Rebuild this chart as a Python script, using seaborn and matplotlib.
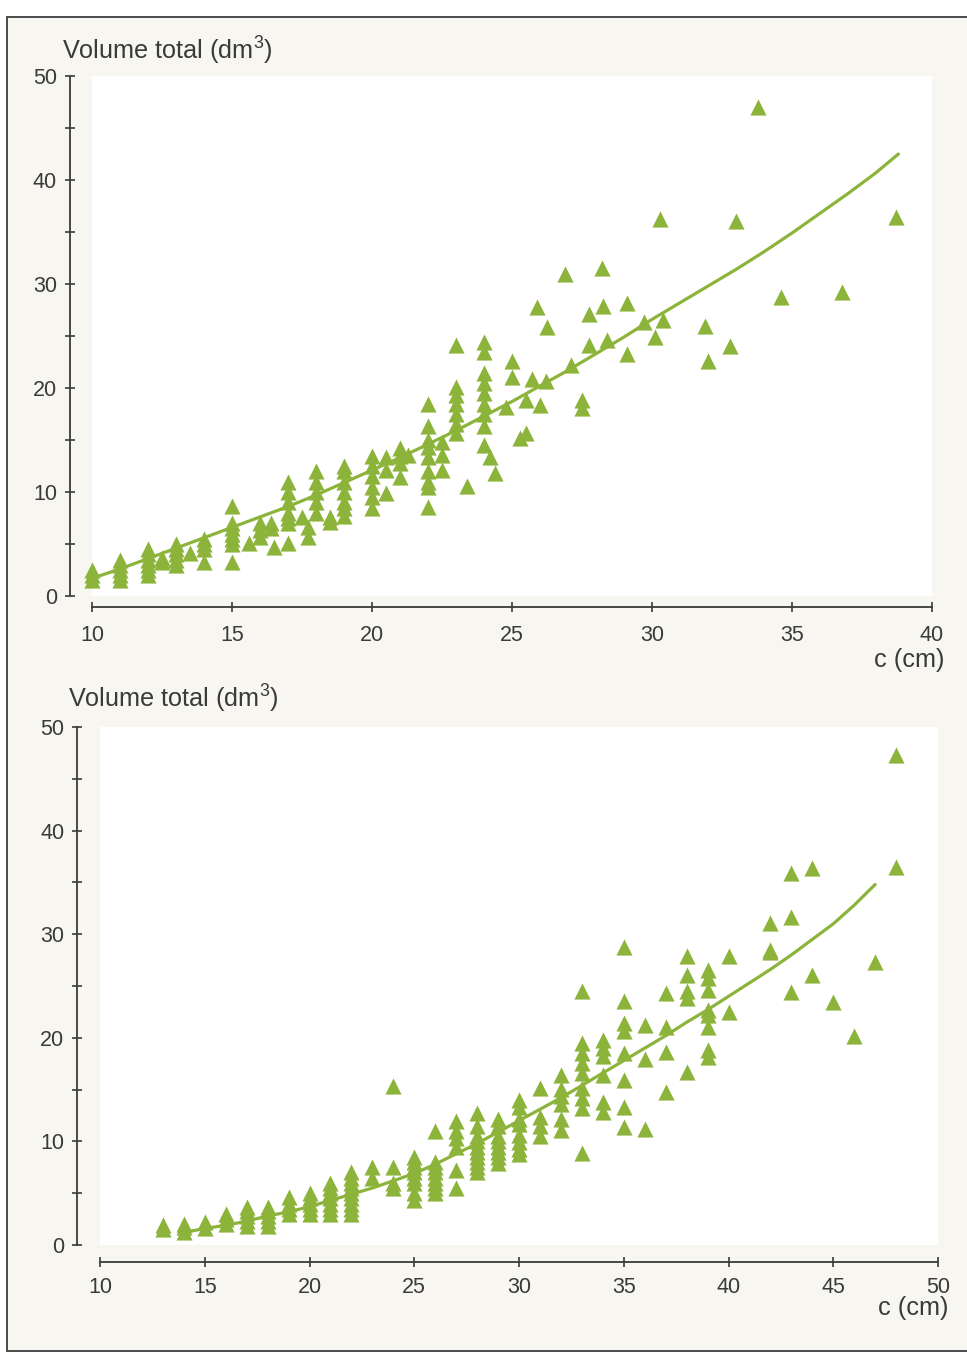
import matplotlib
matplotlib.use("Agg")
import numpy as np
import pandas as pd
import matplotlib.pyplot as plt
from matplotlib.patches import Rectangle
from matplotlib.ticker import MultipleLocator
import seaborn as sns

# ---------------- data ----------------
# top panel: circumference c (cm) and total volume (dm3), grouped by c
top_c = [10, 11, 12, 12.5, 13, 13.5, 14, 15, 15.6, 16, 16.4, 16.5, 17, 17.5, 17.7,
         18, 18.5, 19, 20, 20.5, 21, 21.3, 22, 22.5, 23, 23.4, 24, 24.2, 24.4, 24.8,
         25.0, 25.3, 25.5, 25.7, 25.9, 26.0, 26.2, 26.25, 26.9, 27.1, 27.5, 27.75,
         28.2, 28.25, 28.4, 29.1, 29.7, 30.1, 30.3, 30.4, 31.9, 32.0, 32.8, 33.0,
         33.8, 34.6, 36.8, 38.7]
top_v = [[1.5, 2.0, 2.5], [1.5, 2.0, 2.5, 3.0, 3.5], [2.0, 2.5, 3.0, 3.5, 4.0, 4.5],
         [3.3, 3.7], [3.0, 3.5, 4.0, 4.5, 5.0], [4.1], [3.3, 4.5, 5.0, 5.5],
         [3.3, 5.0, 5.5, 6.0, 6.5, 7.0, 8.7], [5.1], [5.7, 6.3, 7.0], [6.5, 7.0], [4.7],
         [5.1, 7.0, 7.5, 8.0, 9.0, 10.0, 11.0], [7.6], [5.7, 6.6],
         [8.0, 9.0, 10.0, 11.0, 12.0], [7.1, 7.6], [7.7, 8.5, 9.0, 10.0, 11.0, 12.0, 12.5],
         [8.5, 9.5, 10.5, 11.5, 12.5, 13.5], [9.9, 12.1, 13.4], [11.4, 12.8, 13.5, 14.2],
         [13.6], [8.6, 10.5, 11.0, 12.0, 13.4, 14.3, 15.0, 16.3, 18.5], [12.1, 13.6, 14.8],
         [15.7, 16.5, 17.5, 18.5, 19.3, 20.1, 24.1], [10.6],
         [14.5, 16.3, 17.5, 18.5, 19.5, 20.5, 21.4, 23.5, 24.4], [13.4], [11.8], [18.2],
         [21.1, 22.6], [15.2], [15.7, 18.8], [20.9], [27.8], [18.4], [20.7], [25.9],
         [31.0], [22.2], [18.8, 18.1], [27.1, 24.1], [31.5], [27.9], [24.6], [28.2, 23.3],
         [26.3], [24.9], [36.25], [26.5], [26.0], [22.6], [24.0], [36.1], [47.0],
         [28.75], [29.2], [36.4]]
top_fit_c = [10, 11, 12, 13, 14, 15, 16, 17, 18, 19, 20, 21, 22, 23, 24, 25, 26, 27,
             28, 29, 30, 31, 32, 33, 34, 35, 36, 37, 38, 38.8]
top_fit_v = [1.7, 2.6, 3.6, 4.6, 5.6, 6.6, 7.6, 8.6, 9.7, 10.9, 12.1, 13.3, 14.6,
             15.9, 17.3, 18.7, 20.2, 21.7, 23.3, 24.9, 26.6, 28.2, 29.8, 31.4, 33.1,
             34.9, 36.8, 38.7, 40.7, 42.5]

# bottom panel
bot_c = [13, 14, 15, 16, 17, 18, 19, 20, 21, 22, 23, 24, 25, 26, 27, 28, 29, 30, 31,
         32, 33, 34, 35, 36, 37, 38, 39, 40, 42, 43, 44, 45, 46, 47, 48]
bot_v = [[1.5, 1.9], [1.3, 1.7, 2.0], [1.6, 2.2], [2.0, 2.5, 3.0],
         [1.8, 2.3, 2.8, 3.3, 3.7], [1.8, 2.3, 2.8, 3.3, 3.7], [3.0, 3.5, 4.0, 4.6],
         [3.0, 3.5, 4.0, 4.5, 5.0], [3.0, 3.5, 4.0, 4.5, 5.0, 5.5, 6.0],
         [3.0, 3.5, 4.0, 4.5, 5.0, 5.5, 6.0, 6.5, 7.0], [6.5, 7.5], [5.5, 6.0, 7.5, 15.3],
         [4.3, 5.0, 6.0, 6.5, 7.0, 7.5, 8.0, 8.5], [5.0, 5.5, 6.0, 6.5, 7.0, 7.5, 8.0, 11.0],
         [5.5, 7.2, 9.5, 10.3, 11.0, 12.0],
         [7.0, 7.5, 8.0, 8.5, 9.0, 9.5, 10.0, 10.5, 11.5, 12.7],
         [7.9, 8.5, 9.0, 9.5, 10.0, 10.5, 11.5, 12.2],
         [8.8, 9.3, 9.9, 10.6, 11.7, 12.2, 13.3, 14.0], [10.5, 11.5, 12.4, 15.2],
         [11.1, 12.2, 13.6, 14.4, 15.1, 16.4],
         [8.9, 13.2, 14.2, 15.2, 16.6, 17.6, 18.5, 19.5, 24.5],
         [12.8, 13.8, 16.4, 18.2, 19.0, 19.8],
         [11.4, 13.3, 15.9, 18.5, 20.7, 21.4, 23.6, 28.8], [11.2, 18.0, 21.2],
         [14.8, 18.6, 21.0, 24.3], [16.7, 23.8, 24.5, 26.1, 27.9],
         [18.1, 18.8, 21.0, 22.2, 22.7, 24.6, 25.8, 26.5], [22.5, 27.9],
         [28.3, 28.5, 31.1], [24.4, 31.7, 35.9], [26.1, 36.4], [23.5], [20.2], [27.3],
         [36.5, 47.3]]
bot_fit_c = [14, 15, 16, 17, 18, 19, 20, 21, 22, 23, 24, 25, 26, 27, 28, 29, 30, 31,
             32, 33, 34, 35, 36, 37, 38, 39, 40, 41, 42, 43, 44, 45, 46, 47]
bot_fit_v = [1.2, 1.6, 1.9, 2.3, 2.8, 3.2, 3.7, 4.3, 4.9, 5.5, 6.2, 6.9, 7.8, 8.8,
             9.8, 10.9, 12.0, 13.1, 14.2, 15.4, 16.6, 17.8, 19.0, 20.2, 21.5, 22.7,
             24.0, 25.3, 26.6, 28.0, 29.5, 31.0, 32.8, 34.8]

y_label = r"Volume total (dm$^{3}$)"
x_label = "c (cm)"

# ---------------- style ----------------
sns.set_theme(style="white")
plt.rcParams["font.family"] = ["Liberation Sans", "DejaVu Sans"]
plt.rcParams["mathtext.fontset"] = "custom"
plt.rcParams["mathtext.rm"] = "Liberation Sans"
plt.rcParams["mathtext.it"] = "Liberation Sans"
plt.rcParams["mathtext.default"] = "rm"
GREEN = "#8cb43a"
INK = "#3a3a3a"

W, H = 967, 1355
fig = plt.figure(figsize=(W / 100, H / 100), dpi=100)
fig.patch.set_facecolor("white")
fig.patches.append(Rectangle((7 / W, 1 - 1351 / H), 1.05, (1351 - 17) / H,
                             transform=fig.transFigure, facecolor="#f7f6f1",
                             edgecolor="#4a4a4a", linewidth=1.4, zorder=-10))


def px_box(l, r, t, b):
    return [l / W, 1 - b / H, (r - l) / W, (b - t) / H]


def to_frame(cs, groups):
    xs, ys = [], []
    for c, g in zip(cs, groups):
        for v in g:
            xs.append(c)
            ys.append(v)
    return pd.DataFrame({"c": xs, "v": ys})


panels = [
    dict(box=(92, 932, 76, 596), xlim=(10, 40), c=top_c, v=top_v,
         fc=top_fit_c, fv=top_fit_v, left_out=16, bot_out=8, xpad=9.0,
         ylab=(62, 51), xlab=(945, 660)),
    dict(box=(100, 938, 727, 1245), xlim=(10, 50), c=bot_c, v=bot_v,
         fc=bot_fit_c, fv=bot_fit_v, left_out=16.5, bot_out=12, xpad=7.5,
         ylab=(68, 699), xlab=(949, 1308)),
]

for p in panels:
    ax = fig.add_axes(px_box(*p["box"]))
    ax.set_facecolor("white")
    df = to_frame(p["c"], p["v"])
    fit = pd.DataFrame({"c": p["fc"], "v": p["fv"]})
    sns.lineplot(data=fit, x="c", y="v", ax=ax, color=GREEN, linewidth=2.3,
                 sort=True, estimator=None)
    sns.scatterplot(data=df, x="c", y="v", ax=ax, marker="^", s=135,
                    color=GREEN, linewidth=0, clip_on=False, zorder=3)
    ax.set_xlim(*p["xlim"])
    ax.set_ylim(0, 50)
    ax.set_xlabel("")
    ax.set_ylabel("")
    ax.xaxis.set_major_locator(MultipleLocator(5))
    ax.yaxis.set_major_locator(MultipleLocator(10))
    ax.yaxis.set_minor_locator(MultipleLocator(5))
    for s in ("top", "right"):
        ax.spines[s].set_visible(False)
    ax.spines["left"].set_position(("outward", p["left_out"]))
    ax.spines["bottom"].set_position(("outward", p["bot_out"]))
    for s in ("left", "bottom"):
        ax.spines[s].set_color(INK)
        ax.spines[s].set_linewidth(1.3)
    ax.tick_params(axis="both", which="both", direction="inout", length=7.5,
                   width=1.2, color=INK, labelcolor=INK, labelsize=15.5)
    ax.tick_params(axis="y", which="both", pad=5.5, left=True)
    ax.tick_params(axis="x", which="both", pad=p["xpad"], bottom=True)
    fig.text(p["ylab"][0] / W, 1 - p["ylab"][1] / H, y_label, ha="left",
             va="center", fontsize=18.2, color=INK)
    fig.text(p["xlab"][0] / W, 1 - p["xlab"][1] / H, x_label, ha="right",
             va="center", fontsize=18.2, color=INK)

fig.savefig("out.png", dpi=100, facecolor=fig.get_facecolor())
